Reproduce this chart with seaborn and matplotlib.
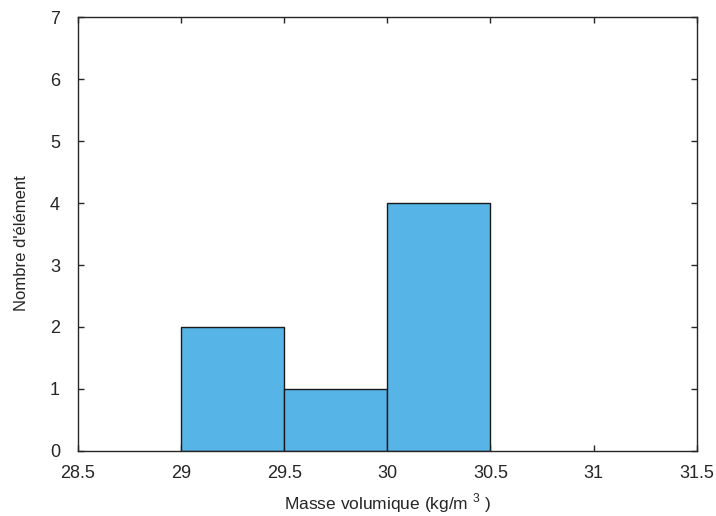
import matplotlib
matplotlib.use('Agg')
import matplotlib.pyplot as plt
import seaborn as sns

# Histogram data
bin_edges = [29.0, 29.5, 30.0, 30.5]
bin_centers = [29.25, 29.75, 30.25]
counts = [2, 1, 4]
x_ticks = [28.5, 29, 29.5, 30, 30.5, 31, 31.5]
y_ticks = [0, 1, 2, 3, 4, 5, 6, 7]

sns.set_theme(style="white")
plt.rcParams['font.family'] = ['Liberation Sans', 'DejaVu Sans']
plt.rcParams['mathtext.fontset'] = 'custom'
plt.rcParams['mathtext.rm'] = 'Liberation Sans'

fig = plt.figure(figsize=(7.16, 5.16), dpi=100)
ax = fig.add_axes([0.109, 0.126, 0.864, 0.841])

sns.histplot(x=bin_centers, weights=counts, bins=bin_edges, ax=ax,
             color='#56B4E7', alpha=1, edgecolor='#1a1a1a', linewidth=1)

ax.set_xlim(28.5, 31.5)
ax.set_ylim(0, 7)
ax.set_xticks(x_ticks)
ax.set_xticklabels([f'{t:g}' for t in x_ticks])
ax.set_yticks(y_ticks)
ax.tick_params(direction='in', length=4, width=1, color='#262626',
               top=True, right=True, bottom=True, left=True,
               labelsize=13, colors='#262626')
ax.tick_params(axis='x', pad=10)
ax.tick_params(axis='y', pad=13)
for s in ax.spines.values():
    s.set_color('#262626')
    s.set_linewidth(1)

ax.set_xlabel(r'Masse volumique (kg/m $^{3}$ )', fontsize=12.5, color='#262626', labelpad=7)
ax.set_ylabel("Nombre d'élément", fontsize=12, color='#262626')
ax.yaxis.set_label_coords(-0.08, 0.48)

fig.savefig('out.png', dpi=100)
